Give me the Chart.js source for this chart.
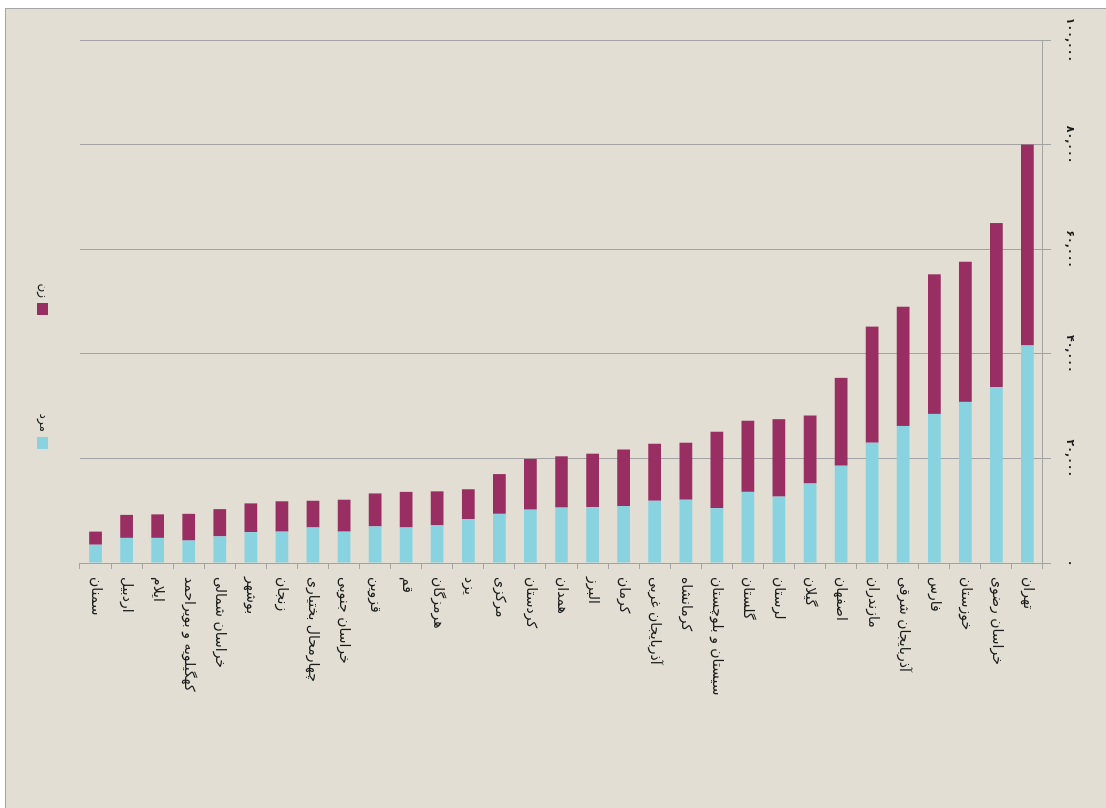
<!DOCTYPE html>
<html lang="fa">
<head>
<meta charset="utf-8">
<title>جمعیت به تفکیک استان</title>
<script src="https://cdn.jsdelivr.net/npm/chart.js@4/dist/chart.umd.min.js"></script>
<style>
    body { margin: 0; background: #fff; overflow: hidden; width: 1106px; height: 808px; }
    #paper {
        position: absolute; left: 5px; top: 8px; right: 0; bottom: 0;
        background: #e3ded3;
        border-left: 1px solid #a5a5a5;
        border-top: 1px solid #a5a5a5;
    }
    /* the chart is drawn as a horizontal bar chart and turned a quarter turn */
    #wrap {
        position: absolute; left: 0; top: 0; width: 808px; height: 1106px;
        transform-origin: 0 0;
        transform: translate(1106px, 0) rotate(90deg);
    }
</style>
</head>
<body>
<div id="paper"></div>
<div id="wrap"><canvas id="ostanChart" width="808" height="1106"></canvas></div>

<script>
// استان‌ها از بالا به پایین
const ostanha = [
    'تهران', 'خراسان رضوی', 'خوزستان', 'فارس', 'آذربایجان شرقی', 'مازندران',
    'اصفهان', 'گیلان', 'لرستان', 'گلستان', 'سیستان و بلوچستان', 'کرمانشاه',
    'آذربایجان غربی', 'کرمان', 'البرز', 'همدان', 'کردستان', 'مرکزی', 'یزد',
    'هرمزگان', 'قم', 'قزوین', 'خراسان جنوبی', 'چهارمحال بختیاری', 'زنجان',
    'بوشهر', 'خراسان شمالی', 'کهگیلویه و بویراحمد', 'ایلام', 'اردبیل', 'سمنان'
];

const mard = [
    41600, 33600, 30800, 28500, 26200, 23000, 18600, 15200, 12700, 13600, 10500,
    12100, 11900, 10900, 10700, 10600, 10200, 9400, 8400, 7200, 6800, 7000, 6000,
    6800, 6000, 5900, 5100, 4300, 4800, 4800, 3500
];

const zan = [
    38400, 31400, 26800, 26700, 22800, 22200, 16800, 13000, 14800, 13600, 14600,
    10900, 10900, 10800, 10200, 9800, 9700, 7600, 5700, 6500, 6800, 6300, 6100,
    5100, 5800, 5500, 5200, 5100, 4500, 4400, 2500
];

const barchasbMehvar = ['۰', '۲۰,۰۰۰', '۴۰,۰۰۰', '۶۰,۰۰۰', '۸۰,۰۰۰', '۱۰۰,۰۰۰'];

const rangMard = '#89d3e1';
const rangZan = '#982e62';
const rangKhat = '#a3a3a3';

// --- راهنما ---
const rahnama = {
    id: 'rahnama',
    afterDraw(chart) {
        const ctx = chart.ctx;
        const jaha = [437, 303];
        ctx.save();
        ctx.font = '12px "DejaVu Sans"';
        ctx.textAlign = 'right';
        ctx.textBaseline = 'middle';
        chart.data.datasets.forEach((ds, i) => {
            const x = jaha[i];
            ctx.fillStyle = ds.backgroundColor;
            ctx.fillRect(x, 1058, 12, 11);
            ctx.fillStyle = '#1a1a1a';
            ctx.fillText(ds.label, x - 5, 1063);
        });
        ctx.restore();
    }
};

Chart.defaults.font.family = '"DejaVu Sans", sans-serif';

new Chart(document.getElementById('ostanChart').getContext('2d'), {
    type: 'bar',
    data: {
        labels: ostanha,
        datasets: [
            { label: 'مرد', data: mard, backgroundColor: rangMard },
            { label: 'زن', data: zan, backgroundColor: rangZan }
        ]
    },
    options: {
        indexAxis: 'y',
        responsive: false,
        animation: false,
        layout: { padding: { left: 40, right: 0, top: 0, bottom: 80 } },
        datasets: { bar: { barPercentage: 0.41, categoryPercentage: 1 } },
        plugins: {
            legend: { display: false },
            tooltip: { enabled: false }
        },
        scales: {
            x: {
                stacked: true,
                position: 'top',
                reverse: true,
                min: 0,
                max: 100000,
                afterFit: s => { s.height = 63; },
                afterBuildTicks: s => {
                    s.ticks = barchasbMehvar.map((t, i) => ({ value: i * 20000 }));
                },
                ticks: {
                    callback: (v, i) => barchasbMehvar[i],
                    font: { size: 11, weight: 'bold' },
                    color: '#1a1a1a',
                    padding: 12,
                    maxRotation: 0
                },
                grid: { color: rangKhat, tickLength: 8 },
                border: { color: rangKhat }
            },
            y: {
                stacked: true,
                position: 'right',
                afterFit: s => { s.width = 245; },
                ticks: {
                    font: { size: 14 },
                    color: '#1a1a1a',
                    padding: 8,
                    autoSkip: false
                },
                grid: { drawOnChartArea: false, offset: true, color: rangKhat, tickLength: 6 },
                border: { color: rangKhat }
            }
        }
    },
    plugins: [rahnama]
});
</script>
</body>
</html>
